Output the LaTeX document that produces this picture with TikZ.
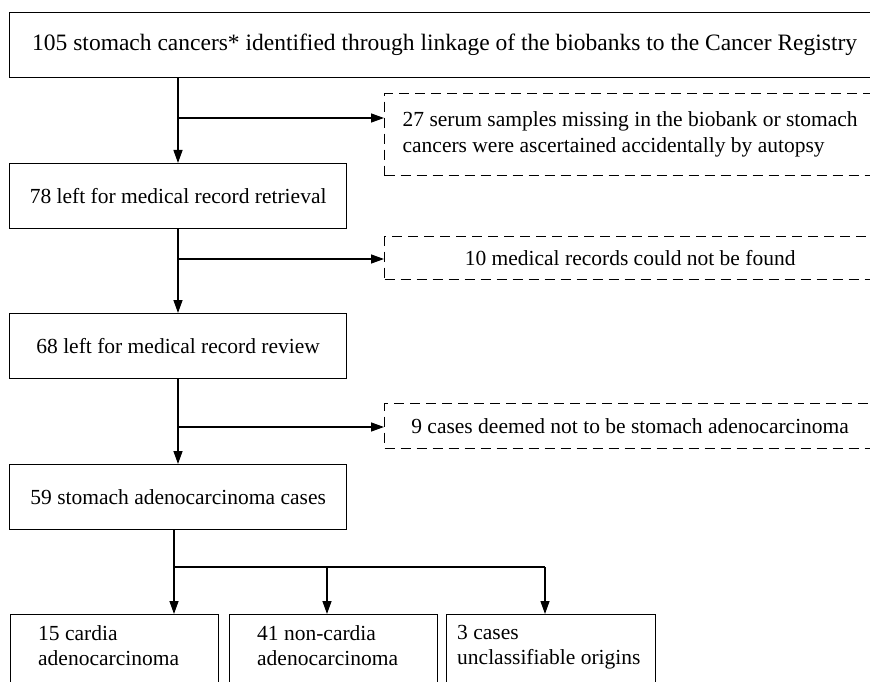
\documentclass[tikz,border=0pt]{standalone}
\usepackage{fontspec}
\setmainfont{Liberation Serif}
\usetikzlibrary{arrows.meta}
\begin{document}
\begin{tikzpicture}[x=1pt,y=-1pt,
  box/.style={draw, line width=1.3pt, inner sep=0pt, anchor=north west, font=\fontsize{21.5}{26}\selectfont},
  dbox/.style={box, dash pattern=on 10pt off 6pt, align=left},
  arr/.style={line width=1.3pt, -{Triangle[length=13pt,width=9pt]}},
  ln/.style={line width=1.3pt},
  txt/.style={inner sep=0pt, anchor=north west, align=left, font=\fontsize{21.5}{25}\selectfont}]
\clip (0,0) rectangle (870,682);
\fill[white] (0,0) rectangle (870,682);
% main column
\node[box, minimum width=870pt, minimum height=65pt, font=\fontsize{23.5}{28}\selectfont] (top) at (9,12)
  {105 stomach cancers* identified through linkage of the biobanks to the Cancer Registry};
\node[box, minimum width=337pt, minimum height=65pt] (box2) at (9,163) {78 left for medical record retrieval};
\node[box, minimum width=337pt, minimum height=65pt] (box3) at (9,313) {68 left for medical record review};
\node[box, minimum width=337pt, minimum height=65pt] (box4) at (9,464) {59 stomach adenocarcinoma cases};
% exclusion boxes
\node[dbox, minimum width=491pt, minimum height=82pt] (d1) at (384,93)
  {27 serum samples missing in the biobank or stomach\\cancers were ascertained accidentally by autopsy};
\node[dbox, minimum width=491pt, minimum height=43pt] (d2) at (384,236) {10 medical records could not be found};
\node[dbox, minimum width=491pt, minimum height=45pt] (d3) at (384,403) {9 cases deemed not to be stomach adenocarcinoma};
% bottom boxes
\node[box, minimum width=208pt, minimum height=90pt] (ca) at (10,614) {};
\node[box, minimum width=208pt, minimum height=90pt] (cb) at (229,614) {};
\node[box, minimum width=209pt, minimum height=90pt] (cc) at (446,614) {};
\node[txt] (cat) at (38,625.5) {15 cardia\\adenocarcinoma};
\node[txt] (cbt) at (257,625.5) {41 non-cardia\\adenocarcinoma};
\node[txt] (cct) at (457,625.5) {3 cases\\unclassifiable origins};
% connectors
\coordinate (j1) at (178,118);
\coordinate (j2) at (178,259);
\coordinate (j3) at (178,427);
\draw[arr] (top.south -| j1) -- (box2.north -| j1);
\draw[arr] (j1) -- (j1 -| d1.west);
\draw[arr] (box2.south -| j2) -- (box3.north -| j2);
\draw[arr] (j2) -- (j2 -| d2.west);
\draw[arr] (box3.south -| j3) -- (box4.north -| j3);
\draw[arr] (j3) -- (j3 -| d3.west);
\coordinate (s0) at (174,567);
\coordinate (s1) at (327,567);
\coordinate (s2) at (545,567);
\draw[ln] (box4.south -| s0) -- (s0) -- (s2);
\draw[arr] (s0) -- (s0 |- ca.north);
\draw[arr] (s1) -- (s1 |- cb.north);
\draw[arr] (s2) -- (s2 |- cc.north);
\end{tikzpicture}
\end{document}
